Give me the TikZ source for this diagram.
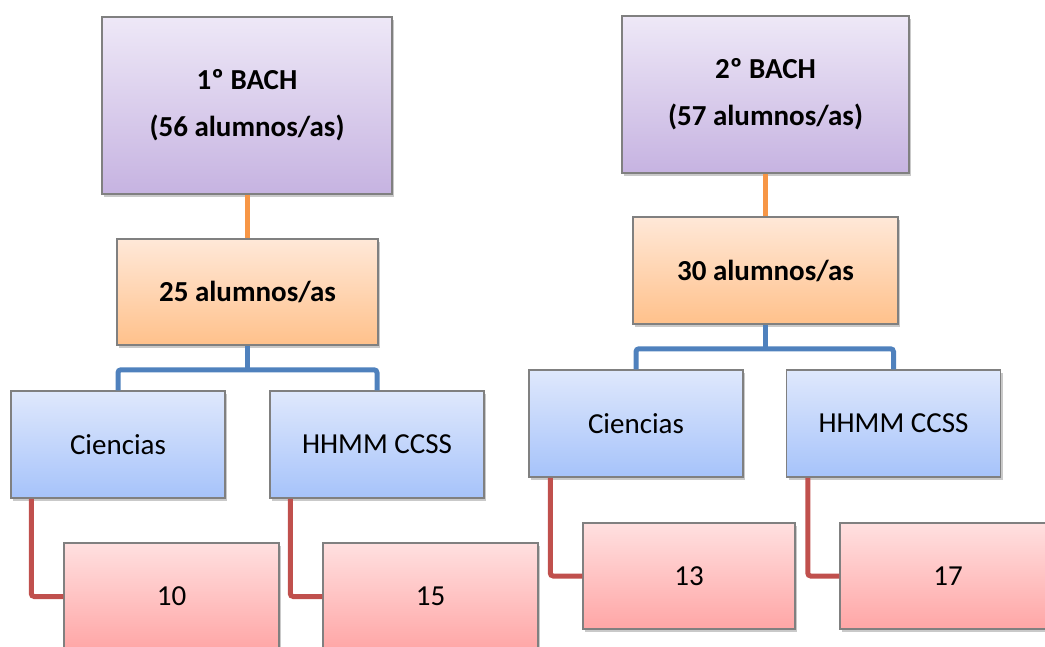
\documentclass[tikz,border=0pt]{standalone}
\usepackage{fontspec}
\setmainfont{Carlito}
\usetikzlibrary{shadows,calc}
\definecolor{pTop}{HTML}{EEE8F7}
\definecolor{pBot}{HTML}{C6B3E1}
\definecolor{oTop}{HTML}{FFE8D8}
\definecolor{oBot}{HTML}{FFC18B}
\definecolor{bTop}{HTML}{DFE8FC}
\definecolor{bBot}{HTML}{A6C3FA}
\definecolor{rTop}{HTML}{FFE0E0}
\definecolor{rBot}{HTML}{FFA6A6}
\definecolor{lnOrange}{HTML}{F79646}
\definecolor{lnBlue}{HTML}{4F81BD}
\definecolor{lnRed}{HTML}{C0504D}
\tikzset{
  box/.style={draw=black!50, line width=1.5pt, inner sep=0pt, align=center,
    font=\fontsize{29}{35}\selectfont,
    drop shadow={shadow xshift=2pt, shadow yshift=-3pt, opacity=0.3, fill=black!70}},
  pbox/.style={box, top color=pTop, bottom color=pBot, font=\fontsize{29}{47}\selectfont\bfseries},
  obox/.style={box, top color=oTop, bottom color=oBot, font=\fontsize{29}{35}\selectfont\bfseries},
  bbox/.style={box, top color=bTop, bottom color=bBot, minimum width=214pt, minimum height=107pt},
  rbox/.style={box, top color=rTop, bottom color=rBot, minimum height=107pt},
  oline/.style={draw=lnOrange, line width=5pt},
  bline/.style={draw=lnBlue, line width=5pt, rounded corners=3pt},
  rline/.style={draw=lnRed, line width=5pt, rounded corners=3pt},
}
\begin{document}
\begin{tikzpicture}[x=1pt, y=-1pt]
\useasboundingbox (0,0) rectangle (1045,646);
\clip (0,0) rectangle (1045,646);
% left tree
\node[pbox, minimum width=290pt, minimum height=177pt] (P1) at (247,105.5) {1º BACH\\(56 alumnos/as)};
\node[obox, minimum width=261pt, minimum height=106pt] (O1) at (247.5,292) {25 alumnos/as};
\node[bbox] (C1) at (118,444.5) {Ciencias};
\node[bbox] (H1) at (377,444.5) {HHMM CCSS};
\node[rbox, minimum width=215pt] (R10) at (171.5,596.5) {10};
\node[rbox, minimum width=215pt] (R15) at (430.5,596.5) {15};
% right tree
\node[pbox, minimum width=287pt, minimum height=157pt] (P2) at (765.5,94.5) {2º BACH\\(57 alumnos/as)};
\node[obox, minimum width=265pt, minimum height=107pt] (O2) at (765.5,270.5) {30 alumnos/as};
\node[bbox] (C2) at (636,423.5) {Ciencias};
\node[bbox] (H2) at (893.5,423.5) {HHMM CCSS};
\node[rbox, minimum width=212pt, minimum height=106pt] (R13) at (689,576) {13};
\node[rbox, minimum width=216pt, minimum height=106pt] (R17) at (948,576) {17};
% connectors left
\draw[oline] (P1.south) -- (O1.north -| P1.south);
\coordinate (J1) at ($(O1.south)+(0,24)$);
\draw[bline] (O1.south) -- (J1);
\draw[bline] (C1.north) -- (C1.north |- J1) -- (H1.north |- J1) -- (H1.north);
\draw[rline] ($(C1.south west)+(21,0)$) |- (R10.west);
\draw[rline] ($(H1.south west)+(21,0)$) |- (R15.west);
% connectors right
\draw[oline] (P2.south) -- (O2.north);
\coordinate (J2) at ($(O2.south)+(0,24)$);
\draw[bline] (O2.south) -- (J2);
\draw[bline] (C2.north) -- (C2.north |- J2) -- (H2.north |- J2) -- (H2.north);
\draw[rline] ($(C2.south west)+(22,0)$) |- (R13.west);
\draw[rline] ($(H2.south west)+(22,0)$) |- (R17.west);
\end{tikzpicture}
\end{document}
